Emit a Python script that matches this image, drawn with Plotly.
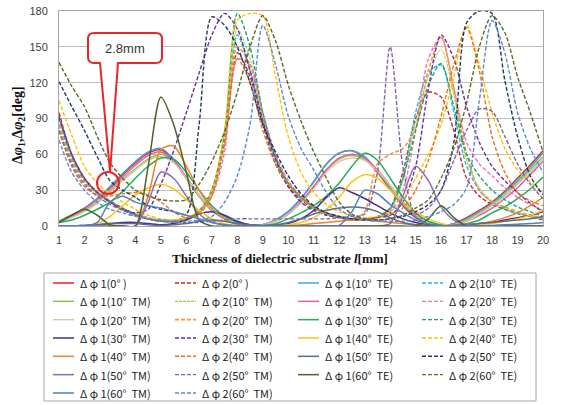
import plotly.graph_objects as go

# thickness grid [mm]
X = [1, 1.5, 2, 2.5, 3, 3.5, 4, 4.5, 5, 5.5, 6, 6.5, 7, 7.5, 8, 8.5, 9, 9.5, 10, 10.5,
     11, 11.5, 12, 12.5, 13, 13.5, 14, 14.5, 15, 15.5, 16, 16.5, 17, 17.5, 18, 18.5, 19, 19.5, 20]

# delta phi 1 (solid)
d1_0 = [4,9,15,23,32,43,53,61,64,55,40,25,13,6,2,0.5,1,5,12,23,37,52,61,63,57,45,31,17,7,2,0,2,7,13,20,29,40,51,63]
d1_10te = [4,9,15,23,33,44,54,62,65,56,40,25,13,6,2,0.5,1,5,12,23,37,52,61,63,58,46,32,18,8,3,0.5,2,6,12,19,28,38,49,61]
d1_10tm = [3,8,13,20,29,39,48,56,60,54,40,26,14,7,2,0.5,1,4,10,20,33,47,56,59,56,46,33,19,9,3,0.5,1,5,11,18,26,36,47,58]
d1_20te = [3,8,14,22,31,41,51,59,62,55,41,26,14,7,2,0.5,1,4,10,20,33,47,57,60,57,47,34,20,9,3,0.5,1,4,9,15,23,32,43,54]
d1_20tm = [3,7,12,19,28,38,47,55,58,53,40,26,14,7,2,0.5,1,4,10,19,31,45,54,57,55,46,34,20,10,3,0.5,1,4,10,17,25,35,45,56]
d1_30te = [3,5,9,14,20,29,40,50,57,56,45,30,17,8,3,1,0.5,2,6,11,17,25,36,50,61,55,40,24,11,4,1,0.5,2,5,11,16,23,31,41]
d1_30tm = [0,0,0.5,1,2,3,3,2,1,2,5,10,12,9,4,1,0,0.5,2,6,13,24,32,28,23,17,11,6,3,1,0,0.5,1,2,3,5,7,9,12]
d1_40te = [0,0,0,2,8,17,26,32,35,31,22,13,6,2,0.5,0,0,0.5,1,3,7,14,24,37,43,40,30,20,12,6,2,0.5,0.5,1,2,4,6,9,13]
d1_40tm = [0,0,0,0,0,0,0,25,64,67,50,30,15,6,1,0,0,0,0,1,2,3,4,5,5,4,3,2,1,0.5,0,0.5,1,2,4,7,11,17,24]
d1_50te = [0,0,0.5,1,2,2,2,1,0.5,1,2,4,5,4,2,1,0.5,1,3,6,10,13,15,16,15,12,7,3,1,0.5,0,0.5,1,2,3,4,5,6,8]
d1_50tm = [0,0,0,0,0,0,0,20,45,40,25,10,3,1,0,0,0,0,0,0,0,0,0,0,0,0,2,25,50,38,16,5,1,0,0,0,0,0,0]
d1_60te = [3,9,14,9,1,0,0,50,108,85,45,5,0,0,0,0,0,0,0,0,0,0,0,0,0,0,0,0,0,6,17,7,0,0,0,0,0,0,0]
d1_60tm = [0,0,0,3,20,25,20,17,15,12,9,6,3,1,0,0,0,0,0,0,0,0,0.5,12,30,27,18,11,5,2,0.5,0,0,0,0.5,1,1.5,2,3]

# delta phi 2 (dashed)
d2_0 = [95,60,40,28,20,14,9,6,4,4,6,12,28,70,145,125,85,52,33,22,14,10,7,5,5,7,15,45,90,112,108,80,40,25,18,14,11,8,5]
d2_10te = [85,55,38,27,20,14,9,6,4,4,6,13,30,75,160,130,88,55,35,23,15,10,7,5,5,7,14,40,95,128,135,95,50,30,20,14,10,8,6]
d2_10tm = [90,58,39,28,21,15,10,6,4,4,6,12,28,70,165,140,92,56,35,23,15,10,7,5,5,7,13,38,88,125,148,110,55,32,21,15,11,8,6]
d2_20te = [92,60,40,29,21,15,10,6,4,4,6,11,25,62,140,135,95,60,38,25,16,11,8,6,5,7,12,30,80,140,158,115,70,52,42,32,24,18,13]
d2_20tm = [85,55,37,27,20,14,10,7,5,5,7,12,28,72,150,135,90,57,36,24,15,10,7,5,12,52,60,65,82,130,158,115,60,30,20,16,12,9,7]
d2_30te = [90,58,39,28,21,15,10,6,4,4,6,12,30,78,178,150,95,58,36,24,16,11,8,6,6,8,15,40,80,118,136,100,60,42,30,22,16,12,8]
d2_30tm = [92,60,40,28,20,14,11,14,35,63,95,128,160,178,165,130,88,56,33,20,13,9,7,6,6,7,9,20,50,115,160,140,100,70,50,38,28,19,12]
d2_40te = [105,76,50,36,27,20,14,9,6,5,7,13,30,80,172,178,176,125,75,45,28,18,12,9,7,8,12,22,40,60,85,125,168,135,95,65,47,37,28]
d2_40tm = [80,50,33,26,25,27,28,26,20,12,7,10,25,70,140,120,80,52,35,24,16,11,8,6,6,7,10,15,30,55,92,135,166,130,75,45,28,21,17]
d2_50te = [121,100,80,58,38,30,24,17,14,12,10,85,175,168,150,120,85,62,42,27,17,11,8,6,5,5,6,8,12,18,30,70,170,180,178,122,75,42,26]
d2_50tm = [80,52,35,25,18,13,9,6,4,3,3,3,4,5,6,6,6,6,6,6,6,6,7,8,10,45,150,50,10,15,30,55,80,98,96,75,52,35,23]
d2_60te = [137,117,100,75,53,40,30,25,22,21,22,35,54,79,112,150,176,155,118,88,62,40,20,10,6,5,6,9,15,22,40,65,103,150,176,162,125,95,62]
d2_60tm = [72,45,30,20,14,11,8,6,5,4,4,5,8,20,42,85,168,135,92,65,47,28,14,8,5,4,4,4,5,8,12,18,32,105,172,145,95,65,45]

Y_TICKS = [0, 30, 60, 90, 120, 150, 180]
X_TICKS = list(range(1, 21))

# (legend label, values, colour, dash, width) in legend row order (4 per row)
series = [
    ("Δ φ 1(0° )", d1_0, "#E3232A", "solid", 1.5),
    ("Δ φ 2(0° )", d2_0, "#C1272D", "4px,2px", 1.4),
    ("Δ φ 1(10°  TE)", d1_10te, "#3AAAE0", "solid", 1.5),
    ("Δ φ 2(10°  TE)", d2_10te, "#1FB8EA", "4px,2px", 1.4),
    ("Δ φ 1(10°  TM)", d1_10tm, "#8DC63F", "solid", 1.5),
    ("Δ φ 2(10°  TM)", d2_10tm, "#9CD23A", "3px,1px", 1.0),
    ("Δ φ 1(20°  TE)", d1_20te, "#E75BAE", "solid", 1.5),
    ("Δ φ 2(20°  TE)", d2_20te, "#F06EBA", "4px,2px", 1.4),
    ("Δ φ 1(20°  TM)", d1_20tm, "#D8C7A6", "solid", 1.5),
    ("Δ φ 2(20°  TM)", d2_20tm, "#F7963F", "4px,2px", 1.6),
    ("Δ φ 1(30°  TE)", d1_30te, "#1FAF5A", "solid", 1.5),
    ("Δ φ 2(30°  TE)", d2_30te, "#17A86B", "4px,2px", 1.4),
    ("Δ φ 1(30°  TM)", d1_30tm, "#4A2A8C", "solid", 1.5),
    ("Δ φ 2(30°  TM)", d2_30tm, "#6A2FA0", "4px,2px", 1.4),
    ("Δ φ 1(40°  TE)", d1_40te, "#FFC20E", "solid", 1.5),
    ("Δ φ 2(40°  TE)", d2_40te, "#FFC000", "4px,2px", 1.4),
    ("Δ φ 1(40°  TM)", d1_40tm, "#F08020", "solid", 1.5),
    ("Δ φ 2(40°  TM)", d2_40tm, "#E8731A", "4px,2px", 1.4),
    ("Δ φ 1(50°  TE)", d1_50te, "#5B6C8A", "solid", 1.5),
    ("Δ φ 2(50°  TE)", d2_50te, "#1F3864", "4px,2px", 1.4),
    ("Δ φ 1(50°  TM)", d1_50tm, "#8A6BB8", "solid", 1.5),
    ("Δ φ 2(50°  TM)", d2_50tm, "#8064A2", "4px,2px", 1.4),
    ("Δ φ 1(60°  TE)", d1_60te, "#4F6228", "solid", 1.5),
    ("Δ φ 2(60°  TE)", d2_60te, "#5A6B2A", "4px,2px", 1.4),
    ("Δ φ 1(60°  TM)", d1_60tm, "#4F81BD", "solid", 1.5),
    ("Δ φ 2(60°  TM)", d2_60tm, "#5B8BD0", "4px,2px", 1.4),
]

# plot area in pixels (for placing legend/callout in paper units)
PL, PR, PT, PB = 59, 543, 11, 226
def px(xp):
    return (xp - PL) / (PR - PL)
def py(yp):
    return (PB - yp) / (PB - PT)

fig = go.Figure()
for name, vals, col, dash, w in series:
    fig.add_trace(go.Scatter(
        x=X, y=vals, mode="lines", name=name, showlegend=False,
        line=dict(color=col, dash=dash, width=w, shape="spline", smoothing=0.8),
    ))

tickfont = dict(family="Liberation Sans, Arial, sans-serif", size=11, color="#404040")
fig.update_layout(
    width=562, height=405,
    margin=dict(l=PL, r=562 - PR, t=PT, b=405 - PB, autoexpand=False),
    paper_bgcolor="white", plot_bgcolor="white",
    showlegend=False,
    xaxis=dict(range=[1, 20], tickvals=X_TICKS, showgrid=False, zeroline=False,
               showline=True, linecolor="#A6A6A6", mirror=True, ticks="",
               tickfont=tickfont, ticklabelstandoff=4),
    yaxis=dict(range=[0, 180], tickvals=Y_TICKS, showgrid=True, gridcolor="#BFBFBF",
               zeroline=False, showline=True, linecolor="#A6A6A6", mirror=True,
               ticks="", tickfont=tickfont, ticklabelstandoff=8),
)

fig.add_annotation(
    text="<b>Thickness of dielectric substrate <i>l</i>[mm]</b>",
    xref="paper", yref="paper", x=px(280), y=py(258), xanchor="center", yanchor="middle",
    showarrow=False, font=dict(family="Liberation Serif, Times New Roman, serif", size=13, color="#111"),
)
fig.add_annotation(
    text="<b>Δ<i>φ</i><sub>1</sub>,Δ<i>φ</i><sub>2</sub>[deg]</b>",
    xref="paper", yref="paper", x=px(19), y=py(125), xanchor="center", yanchor="middle",
    textangle=-90, showarrow=False,
    font=dict(family="Liberation Serif, Times New Roman, serif", size=14, color="#111"),
)

# callout "2.8mm" (rounded box with pointer) and circle
bx0, bx1, by0, by1, rr = 88, 162, 33, 63, 6
pts = [
    ("M", bx0 + rr, by0), ("L", bx1 - rr, by0), ("Q", bx1, by0, bx1, by0 + rr),
    ("L", bx1, by1 - rr), ("Q", bx1, by1, bx1 - rr, by1), ("L", 118, by1),
    ("L", 110, 172), ("L", 100, by1), ("L", bx0 + rr, by1),
    ("Q", bx0, by1, bx0, by1 - rr), ("L", bx0, by0 + rr), ("Q", bx0, by0, bx0 + rr, by0),
]
segs = []
for p in pts:
    if p[0] == "Q":
        segs.append("Q %.4f,%.4f %.4f,%.4f" % (px(p[1]), py(p[2]), px(p[3]), py(p[4])))
    else:
        segs.append("%s %.4f,%.4f" % (p[0], px(p[1]), py(p[2])))
fig.add_shape(type="path", path=" ".join(segs) + " Z", xref="paper", yref="paper",
              line=dict(color="#E8262B", width=2), fillcolor="white", layer="above")
fig.add_shape(type="circle", xref="paper", yref="paper",
              x0=px(97), x1=px(119), y0=py(194), y1=py(172),
              line=dict(color="#E8262B", width=2), layer="above")
fig.add_annotation(text="2.8mm", xref="paper", yref="paper", x=px(125), y=py(48),
                   showarrow=False, xanchor="center", yanchor="middle",
                   font=dict(family="Liberation Sans, Arial, sans-serif", size=13, color="#333"))

# legend box (drawn manually, 4 columns x 7 rows)
fig.add_shape(type="rect", xref="paper", yref="paper",
              x0=px(44), x1=px(536), y0=py(401), y1=py(273),
              line=dict(color="#A6A6A6", width=1), fillcolor="white", layer="above")
COL_X = [53, 175, 298, 422]
ROW_Y0, ROW_DY = 283, 18.33
for i, (name, vals, col, dash, w) in enumerate(series):
    r, c = divmod(i, 4)
    yy = ROW_Y0 + r * ROW_DY
    x0 = COL_X[c]
    fig.add_shape(type="line", xref="paper", yref="paper",
                  x0=px(x0), x1=px(x0 + 21), y0=py(yy), y1=py(yy),
                  line=dict(color=col, dash=dash, width=max(w, 1.2)), layer="above")
    fig.add_annotation(text=name, xref="paper", yref="paper", x=px(x0 + 25), y=py(yy),
                       xanchor="left", yanchor="middle", showarrow=False,
                       font=dict(family="Noto Sans CJK JP", size=11, color="#222"))

fig.write_html("out.html", config={"displayModeBar": False},
               post_script="document.body.style.margin='0';")
